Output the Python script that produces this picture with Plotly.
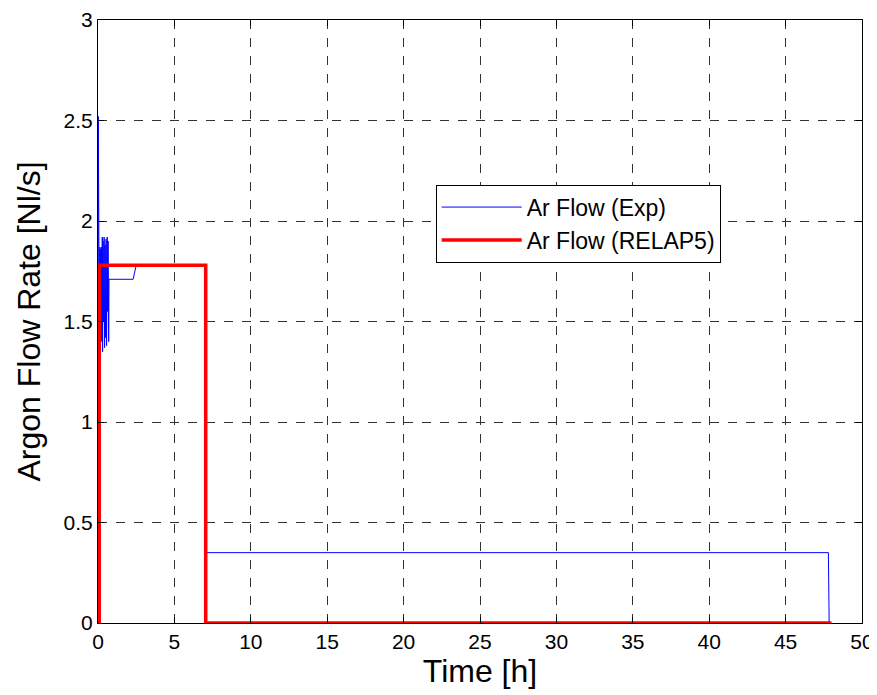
import plotly.graph_objects as go

# ── Data ────────────────────────────────────────────────────────────
# Experimental argon flow (blue): early oscillations, plateau, low flow, shut-off
exp_time_h = [0.0, 0.02, 0.05, 0.06, 0.10, 0.12, 0.15, 0.17, 0.20, 0.22,
              0.25, 0.28, 0.30, 0.33, 0.36, 0.40, 0.43, 0.46, 0.50, 0.53,
              0.56, 0.60, 0.63, 0.66, 0.70, 0.72, 2.30, 2.50, 2.60, 7.00,
              7.05, 47.8, 47.85]
exp_flow = [0.0, 2.52, 1.45, 1.87, 1.38, 1.87, 1.36, 1.86, 1.42, 1.87,
            1.40, 1.92, 1.35, 1.90, 1.50, 1.92, 1.37, 1.88, 1.42, 1.91,
            1.38, 1.92, 1.55, 1.90, 1.40, 1.71, 1.71, 1.78, 1.78, 1.78,
            0.35, 0.35, 0.0]

# RELAP5 argon flow (red): step on, step off
relap_time_h = [0.0, 0.08, 0.08, 7.05, 7.05, 48.0]
relap_flow = [0.0, 0.0, 1.78, 1.78, 0.0, 0.0]

FONT = "Liberation Sans, Arial, sans-serif"

fig = go.Figure()
fig.add_trace(go.Scatter(
    x=exp_time_h, y=exp_flow, mode="lines", name="Ar Flow (Exp)",
    line=dict(color="#0000FF", width=1),
))
fig.add_trace(go.Scatter(
    x=relap_time_h, y=relap_flow, mode="lines", name="Ar Flow (RELAP5)",
    line=dict(color="#FF0000", width=3.5),
))

axis_common = dict(
    showline=True, linecolor="black", linewidth=1, mirror="ticks",
    ticks="inside", ticklen=6, tickcolor="black",
    showgrid=True, gridcolor="#333333", griddash="dash", gridwidth=1,
    zeroline=False, automargin=False,
    tickfont=dict(family=FONT, size=21, color="black"),
    title_font=dict(family=FONT, size=32, color="black"),
)

# page body adds an 8px offset, so the figure is sized 8px smaller each way
fig.update_layout(
    width=869, height=687,
    paper_bgcolor="white", plot_bgcolor="white",
    margin=dict(l=90, r=15, t=12, b=72),
    xaxis=dict(range=[0, 50], dtick=5, title=dict(text="Time [h]", standoff=0),
               **axis_common),
    yaxis=dict(range=[0, 3], dtick=0.5, **axis_common),
    legend=dict(
        x=0.442, y=0.727, xanchor="left", yanchor="top",
        bgcolor="white", bordercolor="black", borderwidth=1,
        font=dict(family=FONT, size=23, color="black"),
        itemwidth=80,
    ),
    showlegend=True,
)

# y-axis title placed as an annotation so it sits as far left as in the reference
fig.add_annotation(
    text="Argon Flow Rate [Nl/s]", textangle=-90,
    xref="paper", yref="paper", x=0, y=0.5,
    xanchor="center", yanchor="middle", xshift=-70, showarrow=False,
    font=dict(family=FONT, size=32, color="black"),
)

fig.write_html("out.html")
